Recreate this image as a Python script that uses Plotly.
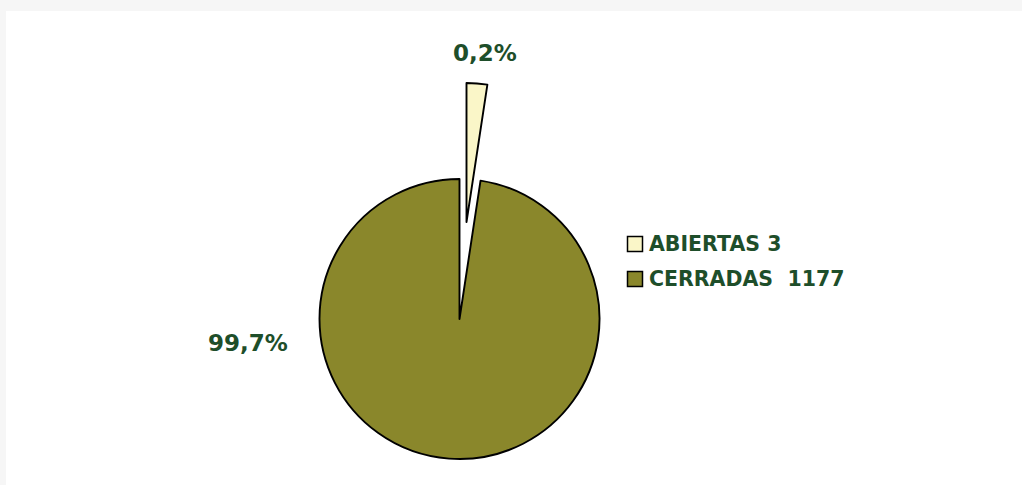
import plotly.graph_objects as go

# Data
categories = ["ABIERTAS", "CERRADAS"]
counts = [3, 1177]
legend_labels = ["ABIERTAS 3", "CERRADAS\u00a0\u00a01177"]
pct_labels = ["0,2%", "99,7%"]
# share of the circle as drawn in the picture (the small wedge is drawn enlarged)
wedge_share = [2.4, 97.6]

OLIVE = "rgb(138,135,43)"
PALE = "rgb(250,246,200)"
TXT = "rgb(30,78,42)"
CLEAR = "rgba(0,0,0,0)"
FONT = "DejaVu Sans"

W, H = 1022, 485

def px(x):
    return x / W

def py(y):
    return 1 - y / H

def dom(cx, cy, r):
    return dict(x=[px(cx - r), px(cx + r)], y=[py(cy + r), py(cy - r)])

fig = go.Figure()

# main pie (gap where the small wedge was pulled out)
fig.add_trace(go.Pie(
    labels=categories, values=wedge_share, sort=False, direction="clockwise", rotation=0,
    marker=dict(colors=[CLEAR, OLIVE], line=dict(color=[CLEAR, "black"], width=[0, 1.9])),
    textinfo="none", hoverinfo="label+value", showlegend=False,
    domain=dom(459.5, 319, 140),
))
# pulled-out wedge
fig.add_trace(go.Pie(
    labels=categories, values=wedge_share, sort=False, direction="clockwise", rotation=0,
    marker=dict(colors=[PALE, CLEAR], line=dict(color=["black", CLEAR], width=[1.9, 0])),
    textinfo="none", hoverinfo="label+value", showlegend=False,
    domain=dom(466.5, 222, 139),
))

annotations = [
    dict(x=px(484.5), y=py(53), text=f"<b>{pct_labels[0]}</b>", xanchor="center", size=23),
    dict(x=px(247.5), y=py(343), text=f"<b>{pct_labels[1]}</b>", xanchor="center", size=23),
]
shapes = [dict(type="rect", xref="paper", yref="paper", x0=px(6), x1=1, y0=0, y1=py(11),
               fillcolor="white", line=dict(width=0), layer="below")]

# legend (squares + labels)
leg_y = [244, 279]
for lab, col, yy in zip(legend_labels, [PALE, OLIVE], leg_y):
    annotations.append(dict(x=px(647), y=py(yy), text=f"<b>{lab}</b>", xanchor="left", size=20.5))
    shapes.append(dict(type="rect", xref="paper", yref="paper", x0=px(627.5), x1=px(642.5),
                       y0=py(yy + 7.5), y1=py(yy - 7.5), fillcolor=col,
                       line=dict(color="black", width=1.5), layer="above"))

for a in annotations:
    size = a.pop("size")
    a.update(xref="paper", yref="paper", showarrow=False, yanchor="middle",
             font=dict(family=FONT, size=size, color=TXT))

fig.update_layout(
    width=W, height=H,
    margin=dict(l=0, r=0, t=0, b=0),
    paper_bgcolor="rgb(246,246,246)",
    plot_bgcolor="rgba(0,0,0,0)",
    xaxis=dict(visible=False), yaxis=dict(visible=False),
    showlegend=False,
    annotations=annotations,
    shapes=shapes,
)

fig.write_html("out.html", config={"displayModeBar": False},
               post_script="document.body.style.margin='0';")
